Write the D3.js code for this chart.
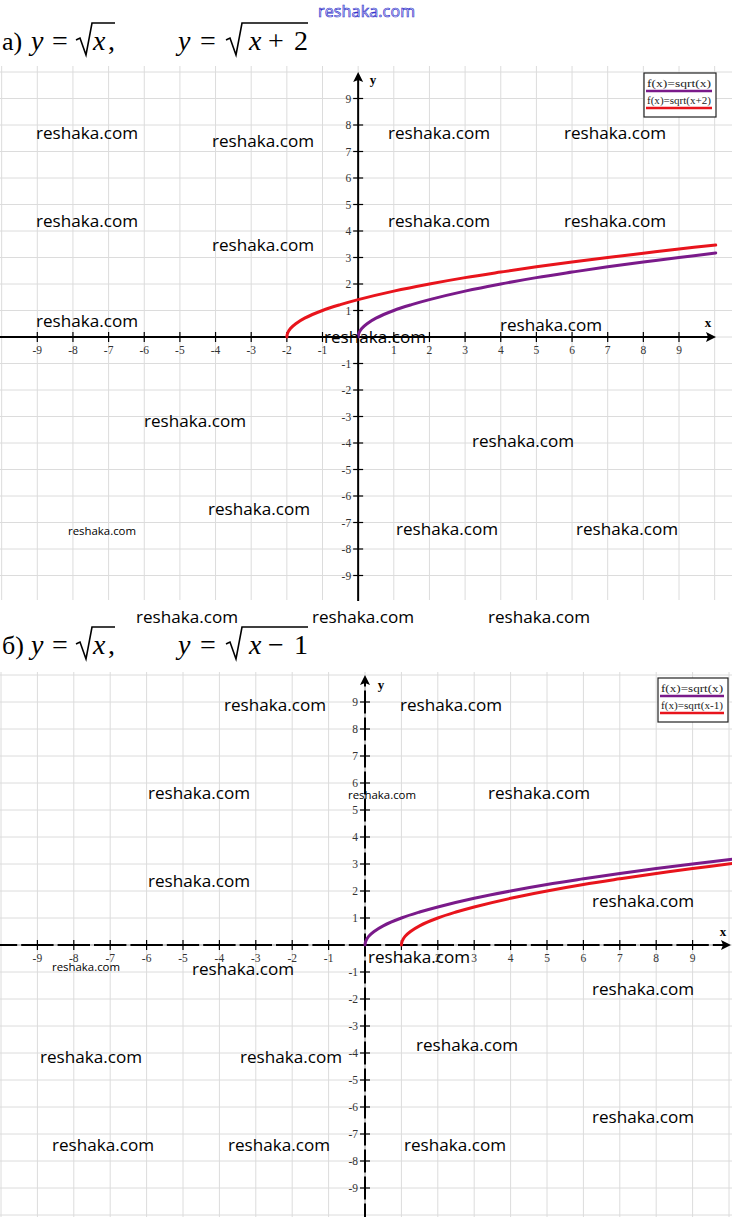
<!DOCTYPE html>
<html><head><meta charset="utf-8">
<script src="https://cdn.jsdelivr.net/npm/d3@7"></script>
<style>body{margin:0;background:#fff}svg{display:block}</style>
</head><body>
<script>
// ---------- data ----------
const ticks = [-9,-8,-7,-6,-5,-4,-3,-2,-1,1,2,3,4,5,6,7,8,9];
const gridUnits = [-10,-9,-8,-7,-6,-5,-4,-3,-2,-1,0,1,2,3,4,5,6,7,8,9,10];
// chart а
const sqrtX_a   = [[0,0],[0.02,0.14],[0.1,0.32],[0.25,0.5],[0.5,0.71],[1,1],[1.5,1.22],[2,1.41],[3,1.73],[4,2],[5,2.24],[6,2.45],[7,2.65],[8,2.83],[9,3],[10.03,3.17]];
const sqrtXp2_a = [[-2,0],[-1.98,0.14],[-1.9,0.32],[-1.75,0.5],[-1.5,0.71],[-1,1],[-0.5,1.22],[0,1.41],[1,1.73],[2,2],[3,2.24],[4,2.45],[5,2.65],[6,2.83],[7,3],[8,3.16],[9,3.32],[10.03,3.47]];
// chart б
const sqrtX_b   = [[0,0],[0.02,0.14],[0.1,0.32],[0.25,0.5],[0.5,0.71],[1,1],[1.5,1.22],[2,1.41],[3,1.73],[4,2],[5,2.24],[6,2.45],[7,2.65],[8,2.83],[9,3],[10.1,3.18]];
const sqrtXm1_b = [[1,0],[1.02,0.14],[1.1,0.32],[1.25,0.5],[1.5,0.71],[2,1],[2.5,1.22],[3,1.41],[4,1.73],[5,2],[6,2.24],[7,2.45],[8,2.65],[9,2.83],[10.1,3.02]];
const legendA = ["f(x)=sqrt(x)","f(x)=sqrt(x+2)"];
const legendB = ["f(x)=sqrt(x)","f(x)=sqrt(x-1)"];
const wmA = [[36,133,1],[212,141,1],[388,133,1],[564,133,1],[36,221,1],[212,245,1],[388,221,1],[564,221,1],[36,321,1],[324,337,1],[500,325,1],[144,421,1],[472,441,1],[208,509,1],[68,531,0],[396,529,1],[576,529,1],[136,617,1],[312,617,1],[488,617,1]];
const wmB = [[224,705,1],[400,705,1],[148,793,1],[348,795,0],[488,793,1],[148,881,1],[592,901,1],[368,957,1],[52,967,0],[192,969,1],[592,989,1],[40,1057,1],[240,1057,1],[416,1045,1],[592,1117,1],[52,1145,1],[228,1145,1],[404,1145,1]];

const PURPLE = "#7a1a8a", RED = "#e8141c";
const svg = d3.select("body").append("svg").attr("width",732).attr("height",1217);

function drawChart(cfg){
  const g = svg.append("g");
  const x = d3.scaleLinear().domain([-9,9]).range(cfg.xr);
  const y = d3.scaleLinear().domain([-9,9]).range(cfg.yr);
  const x0 = x(0), y0 = y(0);
  // grid
  g.selectAll(".vg").data(gridUnits.filter(d=>x(d)>=0&&x(d)<=732)).join("line")
    .attr("x1",d=>x(d)).attr("x2",d=>x(d)).attr("y1",cfg.gTop).attr("y2",cfg.gBot)
    .attr("stroke","#dcdcdc").attr("stroke-width",1);
  g.selectAll(".hg").data(gridUnits.filter(d=>y(d)>=cfg.gTop&&y(d)<=cfg.gBot)).join("line")
    .attr("x1",0).attr("x2",732).attr("y1",d=>y(d)).attr("y2",d=>y(d))
    .attr("stroke","#dcdcdc").attr("stroke-width",1);
  // axes
  const unitX = x(1)-x(0), unitY = y(0)-y(1);
  if(cfg.dashed){
    g.append("line").attr("x1",0).attr("x2",cfg.xEnd-6).attr("y1",y0).attr("y2",y0)
      .attr("stroke","#c8c8c8").attr("stroke-width",2);
    g.append("line").attr("x1",x0).attr("x2",x0).attr("y1",cfg.yTop+6).attr("y2",cfg.yBot)
      .attr("stroke","#c8c8c8").attr("stroke-width",2);
  }
  const xa = g.append("line").attr("x1",0).attr("x2",cfg.xEnd-6).attr("y1",y0).attr("y2",y0)
    .attr("stroke","#000").attr("stroke-width",2);
  const ya = g.append("line").attr("x1",x0).attr("x2",x0).attr("y1",cfg.yTop+6).attr("y2",cfg.yBot)
    .attr("stroke","#000").attr("stroke-width",2);
  if(cfg.dashed){
    const gap=4, on=unitX-gap;
    const firstGap = x0 - 9.5*unitX - gap/2;
    xa.attr("stroke-dasharray",on+","+gap).attr("stroke-dashoffset", on-firstGap);
    const onY=unitY-gap;
    const gy = (cfg.yTop+6);
    const firstGapY = (y(8.5)-gap/2) - gy;
    ya.attr("stroke-dasharray",onY+","+gap).attr("stroke-dashoffset", onY-firstGapY);
  }
  // arrows
  g.append("path").attr("d",`M${cfg.xEnd},${y0} L${cfg.xEnd-10},${y0-5} L${cfg.xEnd-8},${y0} L${cfg.xEnd-10},${y0+5} Z`).attr("fill","#000");
  g.append("path").attr("d",`M${x0},${cfg.yTop} L${x0-5},${cfg.yTop+10} L${x0},${cfg.yTop+8} L${x0+5},${cfg.yTop+10} Z`).attr("fill","#000");
  // ticks
  g.selectAll(".xt").data(ticks).join("line").attr("x1",d=>x(d)).attr("x2",d=>x(d))
    .attr("y1",y0-5).attr("y2",y0+5).attr("stroke","#000").attr("stroke-width",1.2);
  g.selectAll(".yt").data(ticks).join("line").attr("y1",d=>y(d)).attr("y2",d=>y(d))
    .attr("x1",x0-5).attr("x2",x0+5).attr("stroke","#000").attr("stroke-width",1.2);
  g.selectAll(".xl").data(ticks).join("text").attr("x",d=>x(d)).attr("y",y0+17)
    .attr("text-anchor","middle").attr("font-family","Liberation Serif, serif").attr("font-size",11.5)
    .attr("fill","#333").text(d=>d);
  g.selectAll(".yl").data(ticks).join("text").attr("x",x0-7).attr("y",d=>y(d)+4)
    .attr("text-anchor","end").attr("font-family","Liberation Serif, serif").attr("font-size",11.5)
    .attr("fill","#333").text(d=>d);
  g.append("text").attr("x",cfg.xLab[0]).attr("y",cfg.xLab[1]).attr("font-family","Liberation Serif, serif")
    .attr("font-weight","bold").attr("font-size",13).attr("text-anchor","middle").text("x");
  g.append("text").attr("x",cfg.yLab[0]).attr("y",cfg.yLab[1]).attr("font-family","Liberation Serif, serif")
    .attr("font-weight","bold").attr("font-size",13).attr("text-anchor","middle").text("y");
  // curves
  const line = d3.line().x(d=>x(d[0])).y(d=>y(d[1])).curve(d3.curveCatmullRom);
  cfg.series.forEach(s=>{
    g.append("path").attr("d",line(s.data)).attr("fill","none").attr("stroke",s.color)
      .attr("stroke-width",3).attr("stroke-linecap","round");
  });
  // legend
  const L = cfg.legend;
  g.append("rect").attr("x",L.x).attr("y",L.y).attr("width",L.w).attr("height",L.h)
    .attr("fill","#fff").attr("stroke","#222").attr("stroke-width",1.2);
  cfg.series.forEach((s,i)=>{
    g.append("text").attr("x",L.x+3).attr("y",L.y+14+i*17).attr("font-family","Liberation Serif, serif")
      .attr("font-size",10).attr("fill","#222").attr("textLength",L.w-8).attr("lengthAdjust","spacingAndGlyphs").text(L.labels[i]);
    g.append("line").attr("x1",L.x+2).attr("x2",L.x+L.w-4).attr("y1",L.y+18+i*17).attr("y2",L.y+18+i*17)
      .attr("stroke",s.color).attr("stroke-width",2.5);
  });
}

// titles
function title(label, yb, second){
  const g = svg.append("g").attr("font-family","Liberation Serif, Times New Roman, serif").attr("font-size",28);
  g.append("text").attr("x",2).attr("y",yb).attr("font-size",26).text(label);
  g.append("text").attr("x",31).attr("y",yb).attr("font-style","italic").text("y");
  g.append("text").attr("x",52).attr("y",yb).text("=");
  g.append("text").attr("x",93).attr("y",yb).attr("font-style","italic").text("x");
  g.append("text").attr("x",108).attr("y",yb).text(",");
  g.append("text").attr("x",178).attr("y",yb).attr("font-style","italic").text("y");
  g.append("text").attr("x",200).attr("y",yb).text("=");
  g.append("text").attr("x",249).attr("y",yb).attr("font-style","italic").text("x");
  g.append("text").attr("x",268).attr("y",yb).attr("textLength",40).text(second);
  const t = yb-27, b = yb+5;
  [[76,115],[226,308]].forEach(([s,e])=>{
    svg.append("path").attr("d",`M${s},${yb-10} L${s+4},${yb-12} L${s+10},${b} L${s+16},${t} L${e},${t}`)
      .attr("fill","none").attr("stroke","#000").attr("stroke-width",1.6);
  });
}
title("а)", 50, "+ 2");
title("б)", 654, "− 1");

svg.append("text").attr("x",318).attr("y",17).attr("font-family","Open Sans, sans-serif")
  .attr("font-size",16).attr("fill","#fff").attr("stroke","#3333cc").attr("stroke-width",0.7)
  .attr("textLength",97).text("reshaka.com");

drawChart({xr:[37.3,679], yr:[575.5,98.5], gTop:66, gBot:600, xEnd:716, yTop:72, yBot:601,
  xLab:[708,327], yLab:[373,84], dashed:false,
  series:[{data:sqrtX_a,color:PURPLE},{data:sqrtXp2_a,color:RED}],
  legend:{x:644,y:73,w:72,h:44,labels:legendA}});
drawChart({xr:[37.4,692.6], yr:[1188,702], gTop:672, gBot:1217, xEnd:731, yTop:675, yBot:1217,
  xLab:[723,936], yLab:[381,689], dashed:true,
  series:[{data:sqrtX_b,color:PURPLE},{data:sqrtXm1_b,color:RED}],
  legend:{x:658,y:678,w:70,h:44,labels:legendB}});

// watermarks
svg.append("g").selectAll("text").data(wmA.concat(wmB)).join("text")
  .attr("x",d=>d[0]).attr("y",d=>d[1]+(d[2]?6:4)).attr("font-family","Open Sans, sans-serif")
  .attr("font-size",d=>d[2]?17:11.5).attr("textLength",d=>d[2]?102:68).attr("lengthAdjust","spacingAndGlyphs")
  .attr("fill","#000").text("reshaka.com");
</script>
</body></html>
